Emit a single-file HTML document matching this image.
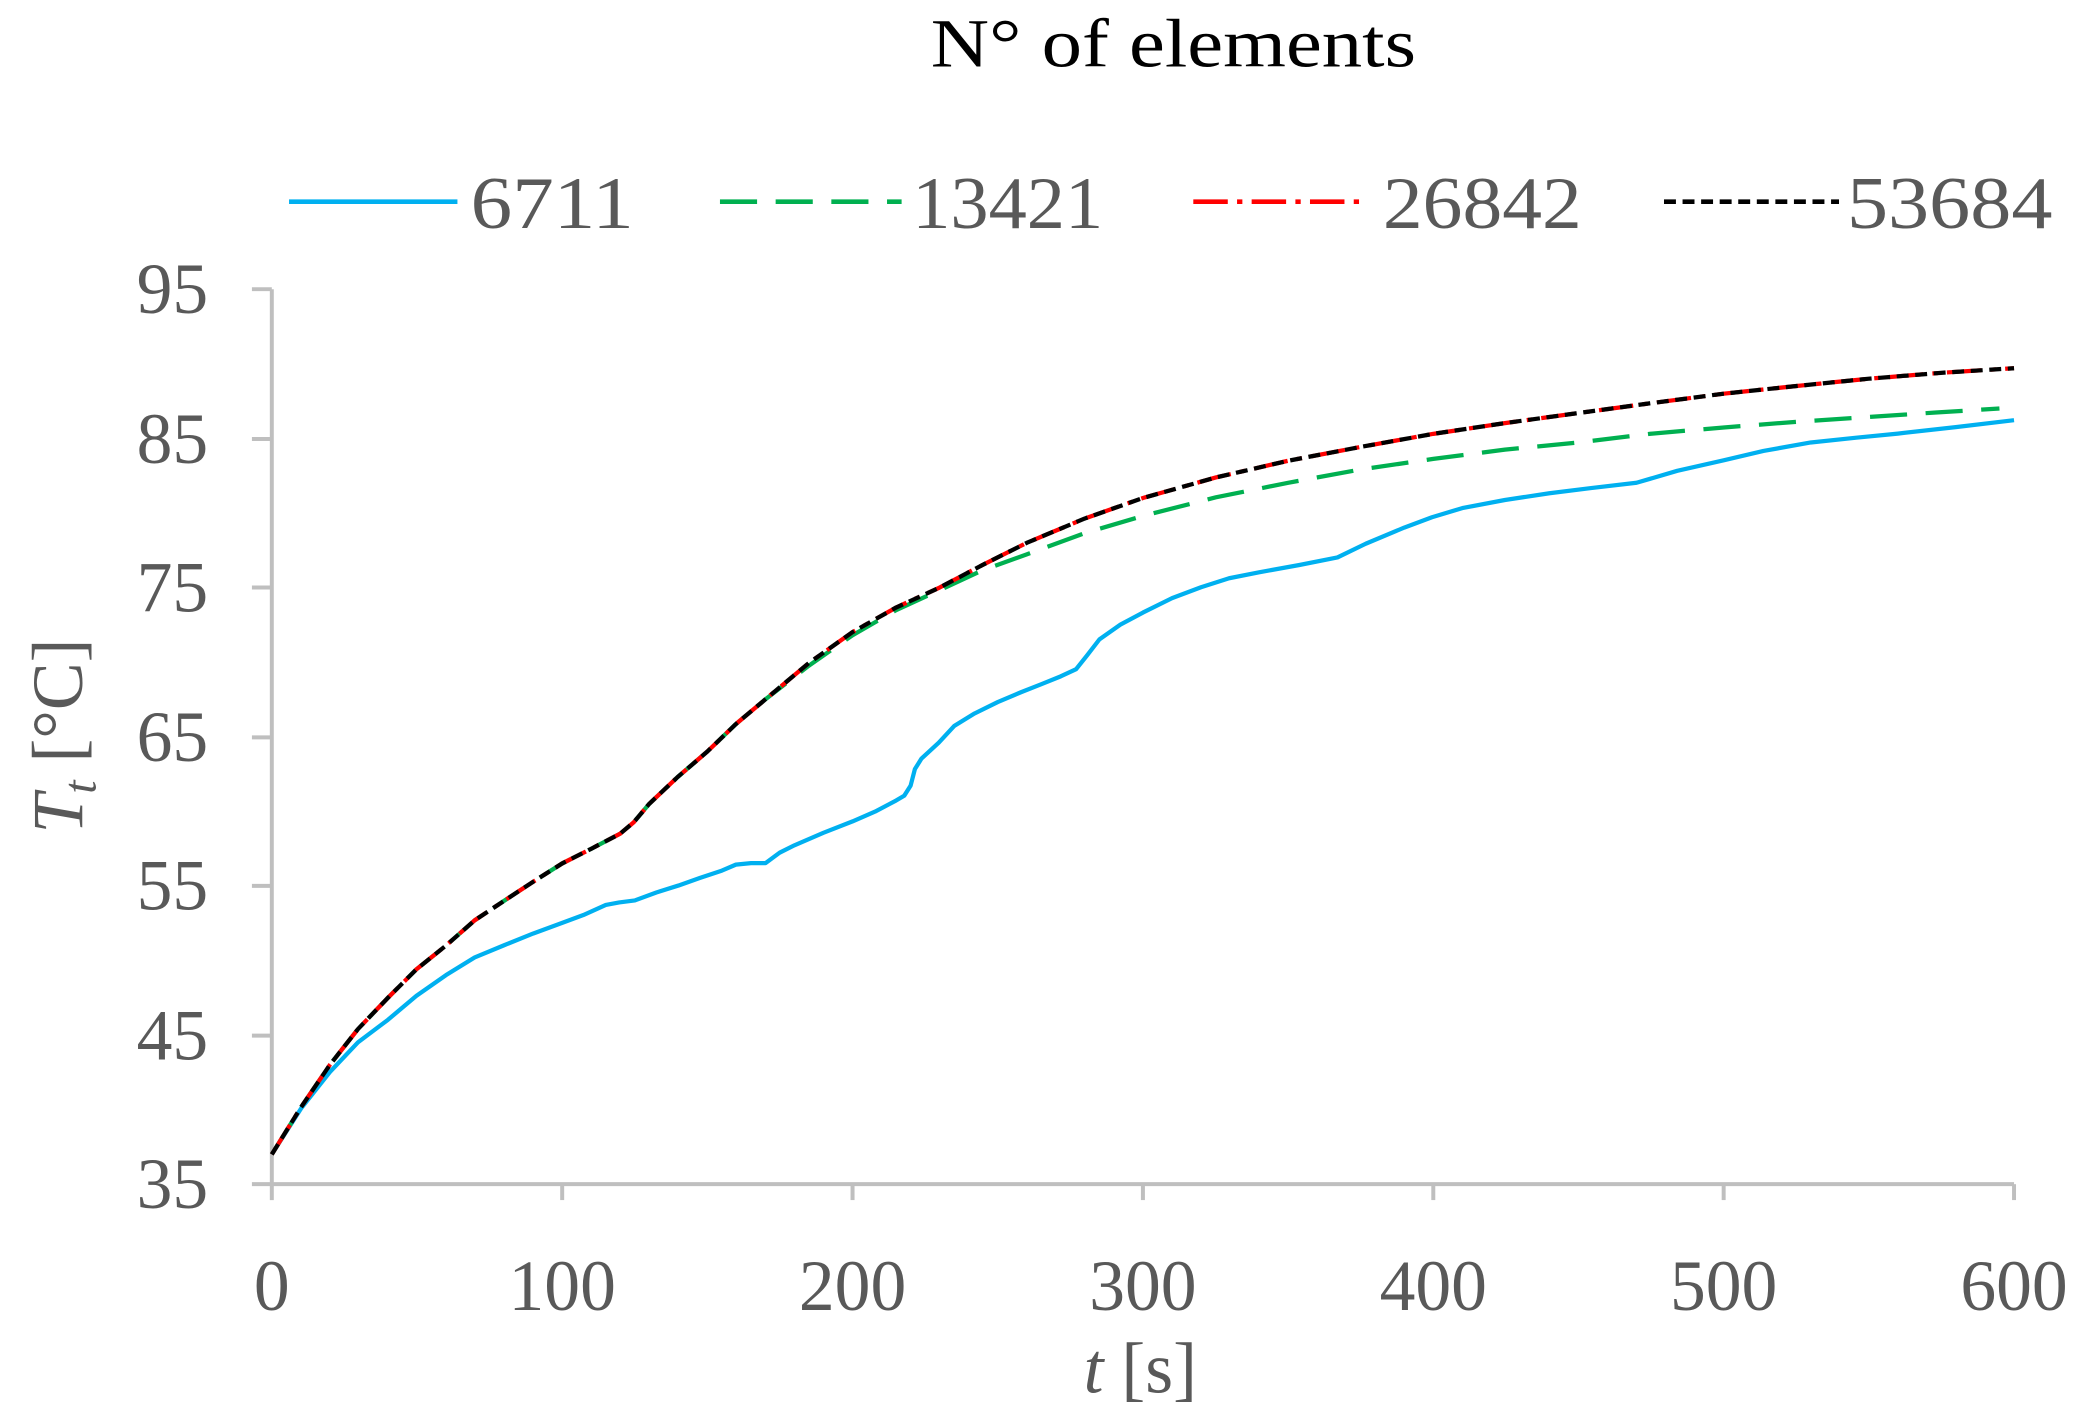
<!DOCTYPE html>
<html><head><meta charset="utf-8"><style>html,body{margin:0;padding:0;background:#fff}svg{display:block}</style></head>
<body>
<svg width="2079" height="1419" viewBox="0 0 1568 1070" xmlns="http://www.w3.org/2000/svg" font-family="Liberation Serif, serif" fill="#595959">
<rect width="1568" height="1070" fill="#fff"/>
<text x="885" y="50" font-size="52" text-anchor="middle" fill="#000" textLength="366" lengthAdjust="spacingAndGlyphs">N° of elements</text>
<g font-size="56">
<line x1="218" y1="152" x2="345" y2="152" stroke="#00b0f0" stroke-width="3.5"/>
<text x="355" y="172" textLength="123" lengthAdjust="spacingAndGlyphs">6711</text>
<line x1="543" y1="152" x2="680" y2="152" stroke="#00b050" stroke-width="3.5" stroke-dasharray="28,14"/>
<text x="688" y="172" textLength="144" lengthAdjust="spacingAndGlyphs">13421</text>
<line x1="900" y1="152" x2="1032" y2="152" stroke="#ff0000" stroke-width="3.5" stroke-dasharray="26,7,4,7"/>
<text x="1043" y="172" textLength="150" lengthAdjust="spacingAndGlyphs">26842</text>
<line x1="1255" y1="152" x2="1387" y2="152" stroke="#000" stroke-width="3.5" stroke-dasharray="9,5"/>
<text x="1393" y="172" textLength="155" lengthAdjust="spacingAndGlyphs">53684</text>
</g>
<g stroke="#bfbfbf" stroke-width="3" fill="none">
<line x1="205" y1="218" x2="205" y2="905"/>
<line x1="190" y1="893" x2="1519" y2="893"/>
<line x1="190" y1="218" x2="205" y2="218"/><line x1="190" y1="331" x2="205" y2="331"/><line x1="190" y1="443" x2="205" y2="443"/><line x1="190" y1="556" x2="205" y2="556"/><line x1="190" y1="668" x2="205" y2="668"/><line x1="190" y1="781" x2="205" y2="781"/>
<line x1="424" y1="893" x2="424" y2="905"/><line x1="643" y1="893" x2="643" y2="905"/><line x1="862" y1="893" x2="862" y2="905"/><line x1="1081" y1="893" x2="1081" y2="905"/><line x1="1300" y1="893" x2="1300" y2="905"/><line x1="1519" y1="893" x2="1519" y2="905"/>
</g>
<g font-size="54" text-anchor="end">
<text x="157" y="236">95</text><text x="157" y="349">85</text><text x="157" y="461">75</text><text x="157" y="574">65</text><text x="157" y="686">55</text><text x="157" y="799">45</text><text x="157" y="911">35</text>
</g>
<g font-size="54" text-anchor="middle">
<text x="205" y="988">0</text><text x="424" y="988">100</text><text x="643" y="988">200</text><text x="862" y="988">300</text><text x="1081" y="988">400</text><text x="1300" y="988">500</text><text x="1519" y="988">600</text>
</g>
<text x="860" y="1050" font-size="54" text-anchor="middle"><tspan font-style="italic">t</tspan> [s]</text>
<text transform="translate(62,555) rotate(-90)" font-size="54" text-anchor="middle"><tspan font-style="italic">T</tspan><tspan font-style="italic" font-size="36" dy="10">t</tspan><tspan dy="-10"> [°C]</tspan></text>
<g fill="none" stroke-width="3.2" stroke-linejoin="round">
<polyline stroke="#00b0f0" points="205,870.5 227,836 248.8,808.4 270,786 292.6,769.0 314,751 336.4,735.3 358,722 380.2,712.8 402,704 424,695.9 440,690 456.9,682.4 467,680.5 478.8,679.0 495,673 511.6,667.8 528,662 544.5,656.5 555,652 566.4,650.9 577.3,650.9 588,643 599.2,637.4 621,628 643,619.4 660,612 675.9,603.6 682,600 686.8,592.4 690,580 695,572 708,560 719.7,547.4 735,538 752.5,529.4 770,522 785.4,515.9 800,510 811.6,504.6 820,494 829.2,482.1 845,471 862,461.9 884,451 905.8,442.8 927,436 949.6,431.5 980,426 1008.7,420.3 1030,410 1059.1,397.8 1080,390 1102.9,383.1 1135,377 1168.6,371.9 1200,368 1234.3,364.0 1265,355 1300,347.1 1330,340 1365.7,333.6 1400,330 1431.4,326.9 1475,322 1519,316.8"/>
<polyline stroke="#00b050" stroke-dasharray="28,14" points="205,870.5 227,835 248.8,803.0 270,776 292.6,752.4 314,731 336.4,713.0 358,694 380.2,679.3 402,665 424,651.1 446,640 467.8,628.6 478,620 489.7,606.1 511,586 533.5,566.7 555,546 577.3,527.3 610,502 643,479 676,460 708.7,445 741,430 774.4,418 818,402 862,389 917,375 971.5,364 1026,354 1081,346 1135,339 1190.5,333.6 1245,327 1300,322.3 1355,318 1409.5,314.4 1460,311 1508,308"/>
<polyline stroke="#ff0000" stroke-dasharray="26,7,4,7" points="205,870.5 227,835 248.8,803.0 270,776 292.6,752.4 314,731 336.4,713.0 358,694 380.2,679.3 402,665 424,651.1 446,640 467.8,628.6 478,620 489.7,606.1 511,586 533.5,566.7 555,546 577.3,527.3 610,500 643,476.6 676,458 708.7,443.0 741,426 774.4,409.3 818,391 862,375.5 917,360 971.5,347.4 1026,337 1081,327.1 1135,319 1190.5,311.4 1245,304 1300,296.8 1355,291 1409.5,285.5 1465,281 1519,277.6"/>
<polyline stroke="#000" stroke-dasharray="9,5" points="205,870.5 227,835 248.8,803.0 270,776 292.6,752.4 314,731 336.4,713.0 358,694 380.2,679.3 402,665 424,651.1 446,640 467.8,628.6 478,620 489.7,606.1 511,586 533.5,566.7 555,546 577.3,527.3 610,500 643,476.6 676,458 708.7,443.0 741,426 774.4,409.3 818,391 862,375.5 917,360 971.5,347.4 1026,337 1081,327.1 1135,319 1190.5,311.4 1245,304 1300,296.8 1355,291 1409.5,285.5 1465,281 1519,277.6"/>
</g>
</svg>
</body></html>
